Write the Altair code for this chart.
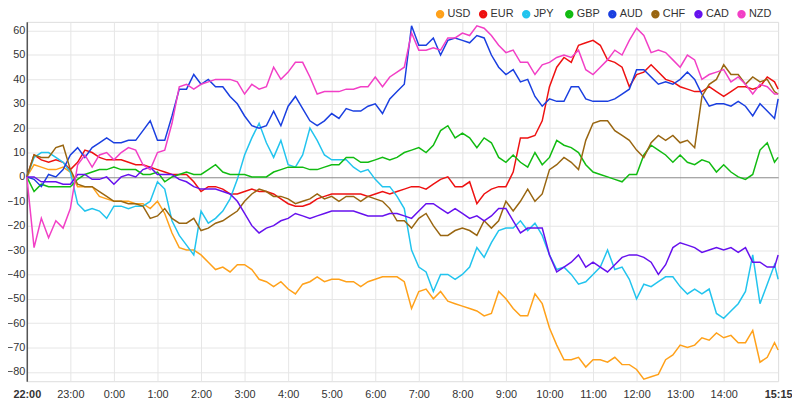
import altair as alt
import pandas as pd

# minutes after 22:00
times = list(range(0, 1031, 10)) + [1035]

currencies = ["USD", "EUR", "JPY", "GBP", "AUD", "CHF", "CAD", "NZD"]
colors = ["#ffa11a", "#ee1111", "#22c4ee", "#11bb11", "#1a3fe0", "#996611", "#6611ee", "#f23fc6"]

USD = [0, 5, 4, 3, 3, 4, 2, -4, -4, -4, -8, -9, -10, -10, -10, -11, -11, -13, -10, -15, -23, -29, -30, -30, -32, -35, -38,
       -37, -39, -36, -36, -38, -42, -43, -45, -43, -46, -48, -44, -43, -41, -43, -42, -42, -43, -43, -45, -43, -42, -41, -41, -41, -43,
       -54, -47, -46, -50, -47, -51, -52, -53, -54, -55, -57, -56, -47, -50, -54, -57, -57, -48, -52, -62, -69, -75, -75, -74, -78, -75,
       -75, -76, -74, -77, -77, -79, -83, -82, -81, -75, -73, -69, -70, -69, -66, -67, -64, -66, -65, -68, -68, -63, -76, -74, -68, -71]
EUR = [0, 9, 7, 6, 7, 6, 3, 6, 11, 10, 8, 7, 7, 7, 6, 5, 5, 4, 3, 2, 1, 1, 1, -2, -6, -4, -4,
       -5, -7, -7, -6, -5, -6, -6, -7, -9, -11, -12, -12, -11, -9, -8, -7, -7, -7, -7, -7, -8, -7, -6, -7, -6, -5,
       -4, -4, -5, -3, -1, 0, -4, -4, -2, -11, -7, -5, -4, -4, 2, 16, 16, 17, 23, 37, 45, 49, 47, 54, 55, 56,
       54, 48, 47, 45, 37, 42, 43, 46, 43, 40, 39, 37, 36, 35, 35, 37, 35, 33, 35, 37, 37, 36, 37, 41, 39, 36]
JPY = [0, 8, 10, 10, 8, 6, 2, -11, -14, -13, -14, -17, -12, -12, -13, -12, -12, -10, -2, -5, -18, -24, -28, -32, -14, -19, -17,
       -14, -9, -1, 9, 16, 22, 14, 8, 15, 5, 4, 9, 20, 15, 9, 7, 7, 7, 4, 2, 3, -1, -4, -4, -8, -13,
       -30, -37, -39, -47, -40, -40, -42, -40, -37, -29, -33, -27, -22, -21, -21, -18, -22, -19, -24, -32, -38, -37, -40, -44, -43, -40,
       -37, -30, -38, -37, -42, -50, -44, -45, -43, -41, -41, -45, -48, -46, -48, -46, -56, -58, -55, -52, -47, -32, -52, -44, -36, -42]
GBP = [0, -6, -3, -4, -4, -4, -4, -1, 1, 2, 3, 3, 4, 3, 3, 3, 1, 1, 2, -2, 0, 1, 2, 1, 1, 3, 5,
       2, 1, 1, 1, 0, 0, 0, 2, 3, 4, 4, 4, 3, 3, 4, 5, 5, 8, 8, 6, 6, 7, 8, 7, 8, 10,
       11, 12, 10, 13, 19, 21, 16, 18, 16, 12, 16, 14, 8, 6, 9, 6, 4, 10, 5, 8, 15, 13, 12, 10, 5, 2,
       1, 0, -1, -2, 1, 1, 9, 13, 11, 9, 6, 9, 6, 5, 7, 6, 2, 5, 2, 0, -1, 1, 11, 14, 6, 8]
AUD = [0, -1, -4, 1, 0, 3, 9, 12, 8, 12, 14, 16, 14, 14, 15, 15, 19, 23, 15, 15, 25, 36, 36, 42, 38, 40, 37,
       37, 33, 30, 25, 21, 20, 21, 27, 21, 29, 33, 28, 23, 21, 23, 26, 24, 28, 27, 27, 29, 30, 26, 32, 35, 38,
       62, 54, 54, 57, 50, 56, 57, 56, 55, 58, 57, 50, 45, 42, 44, 39, 40, 33, 29, 32, 31, 31, 37, 37, 32, 31,
       31, 31, 32, 34, 36, 44, 44, 41, 38, 39, 38, 40, 43, 40, 34, 29, 30, 30, 29, 31, 29, 25, 30, 27, 24, 32]
CHF = [0, 9, 8, 8, 12, 13, 3, -3, -4, -4, -6, -8, -10, -10, -11, -11, -12, -17, -16, -13, -17, -19, -19, -17, -22, -21, -19,
       -18, -16, -14, -10, -7, -5, -6, -8, -8, -9, -11, -10, -9, -7, -9, -8, -10, -8, -8, -10, -8, -9, -10, -13, -18, -18,
       -21, -17, -15, -20, -24, -24, -22, -21, -22, -24, -18, -21, -18, -10, -14, -10, -5, -10, -7, 3, 5, 8, 6, 3, 15, 22,
       23, 23, 19, 17, 15, 11, 8, 14, 17, 15, 17, 14, 15, 12, 33, 38, 40, 46, 42, 42, 38, 41, 39, 40, 35, 34]
CAD = [0, 0, -2, -2, -2, -3, -3, 1, 1, -1, -1, 0, -3, 0, 1, 0, 3, 4, 1, 1, 1, -1, -2, -4, -5, -5, -5,
       -6, -7, -10, -15, -20, -23, -21, -20, -18, -17, -15, -16, -17, -16, -15, -14, -14, -14, -14, -15, -16, -16, -16, -15, -15, -16,
       -17, -14, -11, -11, -13, -15, -13, -15, -17, -16, -18, -16, -13, -13, -18, -23, -21, -21, -21, -32, -39, -37, -35, -32, -37, -35,
       -37, -39, -36, -33, -32, -32, -33, -35, -40, -36, -29, -27, -28, -29, -31, -30, -29, -30, -29, -31, -29, -35, -35, -37, -37, -32]
NZD = [0, -29, -17, -25, -18, -21, -13, 5, 9, 4, 9, 10, 7, 10, 12, 11, 5, 3, 10, 11, 22, 37, 38, 36, 38, 39, 40,
       40, 40, 39, 34, 38, 36, 37, 45, 40, 43, 47, 47, 41, 34, 35, 35, 35, 36, 36, 37, 37, 41, 37, 41, 43, 45,
       59, 52, 52, 53, 52, 57, 57, 59, 58, 62, 61, 58, 54, 51, 52, 47, 47, 42, 46, 47, 49, 50, 49, 52, 44, 42,
       45, 48, 52, 50, 56, 61, 58, 51, 52, 51, 48, 45, 50, 48, 40, 42, 43, 44, 39, 41, 38, 34, 38, 37, 34, 34]

x_ticks = [0, 60, 120, 180, 240, 300, 360, 420, 480, 540, 600, 660, 720, 780, 840, 900, 960, 1035]
y_ticks = [-80, -70, -60, -50, -40, -30, -20, -10, 0, 10, 20, 30, 40, 50, 60]

series = {"USD": USD, "EUR": EUR, "JPY": JPY, "GBP": GBP, "AUD": AUD, "CHF": CHF, "CAD": CAD, "NZD": NZD}
rows = []
for cur in currencies:
    for t, v in zip(times, series[cur]):
        rows.append({"t": t, "value": v, "currency": cur, "order": currencies.index(cur)})
df = pd.DataFrame(rows)

FONT = "Liberation Sans"

label_expr = ("floor(((1320 + datum.value) % 1440) / 60) + ':' + "
              "((((1320 + datum.value) % 60) < 10) ? '0' : '') + ((1320 + datum.value) % 60)")

x_axis = alt.Axis(
    values=x_ticks, labelExpr=label_expr, title=None, domain=False, ticks=False,
    labelFont=FONT, labelFontSize=11, labelColor="#333", labelPadding=7,
    labelFontWeight={"condition": {"test": "datum.value == 0 || datum.value == 1035", "value": "bold"}, "value": "normal"},
    gridColor={"condition": {"test": "datum.value == 1035", "value": "transparent"}, "value": "#e6e6e6"},
    labelFlush=False,
)
y_axis = alt.Axis(
    values=y_ticks, title=None, ticks=False, domain=True, domainColor="#555", domainWidth=1.5,
    labelFont=FONT, labelFontSize=11, labelColor="#333", labelPadding=2,
    gridColor={"condition": {"test": "datum.value == 0", "value": "#888888"}, "value": "#e6e6e6"},
)

chart = alt.Chart(df).mark_line(strokeWidth=1.5).encode(
    x=alt.X("t:Q", scale=alt.Scale(domain=[0, 1035], nice=False, zero=False), axis=x_axis),
    y=alt.Y("value:Q", scale=alt.Scale(domain=[-83.8, 63.6], nice=False, zero=False), axis=y_axis),
    color=alt.Color(
        "currency:N",
        scale=alt.Scale(domain=currencies, range=colors),
        legend=alt.Legend(
            title=None, orient="none", legendX=412, legendY=-13.5, direction="horizontal",
            columns=8, symbolType="circle", symbolSize=16, symbolStrokeWidth=4.5, symbolOpacity=1,
            labelFont=FONT, labelFontSize=11, labelColor="#333", labelOffset=2,
            columnPadding=0.5, gridAlign="all", padding=0,
        ),
    ),
    order="order:Q",
    detail="currency:N",
).properties(
    width=759, height=363,
    autosize=alt.AutoSizeParams(type="none"),
    padding={"left": 19, "top": 12, "right": 14, "bottom": 18},
).configure_view(stroke=None).configure(background="white")

chart.save("out.html", embed_options={"renderer": "svg", "actions": False})
